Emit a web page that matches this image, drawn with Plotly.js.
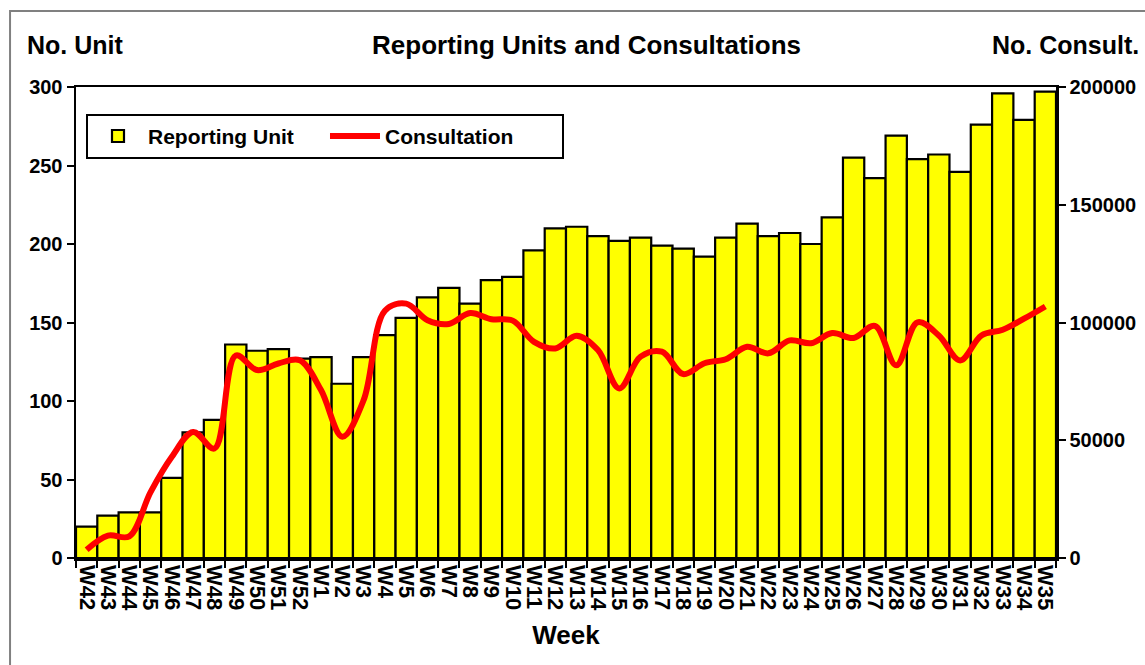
<!DOCTYPE html>
<html>
<head>
<meta charset="utf-8">
<script src="https://cdn.plot.ly/plotly-3.0.1.min.js"></script>
<style>html,body{margin:0;padding:0;background:#fff;}#chart{width:1145px;height:665px;}</style>
</head>
<body>
<div id="chart"></div>
<script>
const weeks = ["W42","W43","W44","W45","W46","W47","W48","W49","W50","W51","W52",
  "W1","W2","W3","W4","W5","W6","W7","W8","W9","W10","W11","W12","W13","W14","W15",
  "W16","W17","W18","W19","W20","W21","W22","W23","W24","W25","W26","W27","W28","W29",
  "W30","W31","W32","W33","W34","W35"];
const reportingUnits = [20,27,29,29,51,80,88,136,132,133,127,
  128,111,128,142,153,166,172,162,177,179,196,210,211,205,202,
  204,199,197,192,204,213,205,207,200,217,255,242,269,254,
  257,246,276,296,279,297];
const consultations = [3500,9500,9200,28000,43000,53500,46500,86000,79800,82600,84000,
  71300,51500,67000,105000,108000,101000,99400,104000,101400,100800,91800,89000,94400,88300,72000,
  85500,87600,78100,82700,84400,89700,86900,92400,91200,95500,93400,98600,81800,100100,
  94500,83900,94500,96900,101600,106800];

const FONT = "Arial, 'Liberation Sans', sans-serif";

const traces = [
  {type:"bar", name:"Reporting Unit", x:weeks, y:reportingUnits,
   marker:{color:"#FFFF00", line:{color:"#000000", width:2.2}}, yaxis:"y"},
  {type:"scatter", mode:"lines", name:"Consultation", x:weeks, y:consultations,
   line:{color:"#FF0000", width:6, shape:"spline", smoothing:1}, yaxis:"y2"}
];

const axisCommon = {
  showline:true, linecolor:"#000", linewidth:2.5, ticks:"outside", ticklen:7,
  tickwidth:2, tickcolor:"#000", showgrid:false, zeroline:false, automargin:false,
  tickfont:{family:FONT, size:20, color:"#000", weight:"bold"}
};

const layout = {
  width:1145, height:665,
  margin:{l:76, r:89, t:87, b:107},
  paper_bgcolor:"#fff", plot_bgcolor:"#fff",
  font:{family:FONT, color:"#000"},
  bargap:0,
  showlegend:true,
  title:{text:"Reporting Units and Consultations", font:{family:FONT, size:26, weight:"bold", color:"#000"},
         xref:"paper", x:0.521, xanchor:"center", yref:"container", y:0.932, yanchor:"middle"},
  xaxis:Object.assign({}, axisCommon, {
    type:"category", tickson:"boundaries", tickangle:90, mirror:true,
    tickmode:"linear", tick0:0, dtick:1,
    tickfont:{family:FONT, size:22, color:"#000", weight:"bold"},
    title:{text:"Week", font:{family:FONT, size:26, weight:"bold", color:"#000"}, standoff:16}
  }),
  yaxis:Object.assign({}, axisCommon, {range:[0,300], dtick:50, tick0:0}),
  yaxis2:Object.assign({}, axisCommon, {range:[0,200000], dtick:50000, tick0:0,
    overlaying:"y", side:"right", tickformat:"d"}),
  legend:{orientation:"h", x:0.0102, y:0.943, xanchor:"left", yanchor:"top",
    bordercolor:"#000", borderwidth:2, bgcolor:"#fff",
    font:{family:FONT, size:21, weight:"bold", color:"#000"},
    itemwidth:50, entrywidth:172, traceorder:"normal"},
  annotations:[
    {text:"No. Unit", xref:"paper", yref:"paper", x:-0.052, y:1.089, xanchor:"left", yanchor:"middle",
     showarrow:false, font:{family:FONT, size:25, weight:"bold", color:"#000"}},
    {text:"No. Consult.", xref:"paper", yref:"paper", x:1.0867, y:1.089, xanchor:"right", yanchor:"middle",
     showarrow:false, font:{family:FONT, size:25, weight:"bold", color:"#000"}}
  ],
  shapes:[
    {type:"rect", xref:"paper", yref:"paper", x0:-0.0673, y0:-0.26, x1:1.1, y1:1.1614,
     line:{color:"#808080", width:2}, fillcolor:"rgba(0,0,0,0)", layer:"below"}
  ]
};

Plotly.newPlot("chart", traces, layout, {displayModeBar:false, staticPlot:true});
</script>
</body>
</html>
